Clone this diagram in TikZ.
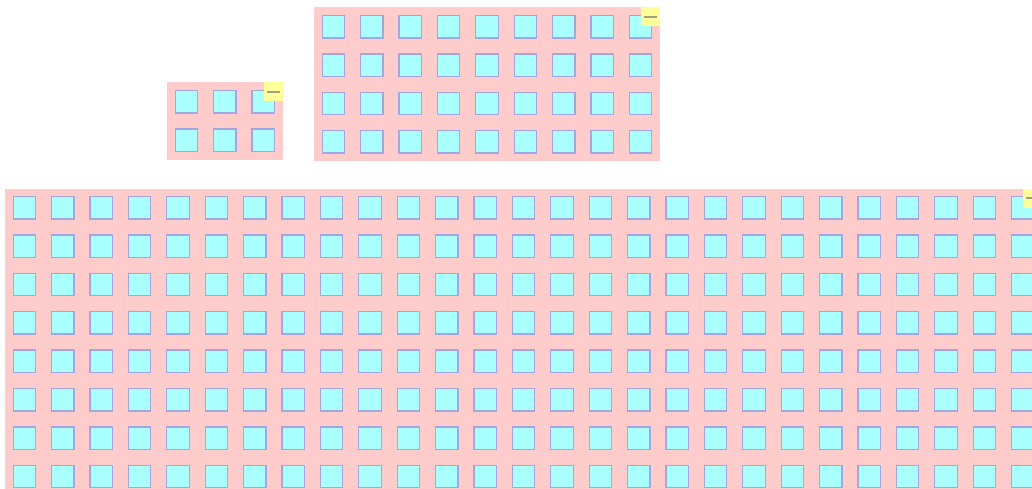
\documentclass[tikz,border=0pt]{standalone}
\definecolor{panelpink}{RGB}{255,204,204}
\definecolor{cellcyan}{RGB}{170,255,255}
\definecolor{cellline}{RGB}{165,165,228}
\definecolor{minyellow}{RGB}{255,255,153}
\definecolor{mindash}{RGB}{160,160,130}
\tikzset{
  panelbox/.style={fill=panelpink, draw=none, inner sep=0pt, anchor=north west},
  cellbox/.style={fill=cellcyan, draw=cellline, line width=1.3pt, inner sep=0pt, minimum size=22.4pt},
  minbox/.style={fill=minyellow, draw=none, inner sep=0pt, minimum size=19pt, anchor=north east},
  minline/.style={draw=mindash, line width=1.2pt}
}
\newcommand\mypanel[5]{% name, x, y, cols, rows
  \pgfmathsetmacro\pw{#4*38.4+0.4}
  \pgfmathsetmacro\ph{#5*38.4+0.4}
  \node[panelbox, minimum width=\pw pt, minimum height=\ph pt] (#1) at (#2,#3) {};
  \foreach \i in {1,...,#4}{
    \foreach \j in {1,...,#5}{
      \pgfmathsetmacro\cx{#2+7.7+11.7+(\i-1)*38.4}
      \pgfmathsetmacro\cy{#3+7.7+11.7+(\j-1)*38.4}
      \node[cellbox] (#1-\i-\j) at (\cx,\cy) {};
    }
  }
  \node[minbox] (#1-min) at (#1.north east) {};
  \draw[minline] ([xshift=-6.5pt]#1-min.center) -- ([xshift=6.5pt]#1-min.center);
}
\begin{document}
\begin{tikzpicture}[x=1pt,y=-1pt]
\useasboundingbox (0,0) rectangle (1032,489);
\clip (0,0) rectangle (1032,489);
\mypanel{small}{167}{82.3}{3}{2}
\mypanel{top}{314}{7.3}{9}{4}
\mypanel{big}{5}{188.3}{27}{8}
\end{tikzpicture}
\end{document}
